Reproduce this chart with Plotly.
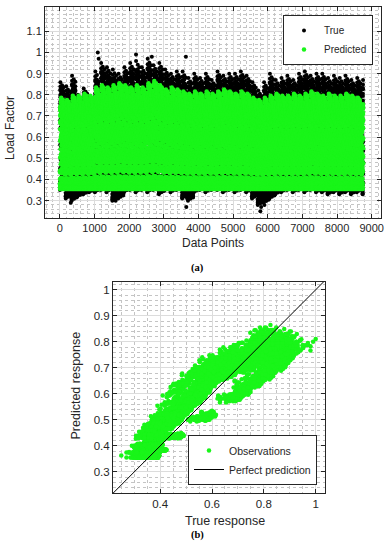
import numpy as np
import plotly.graph_objects as go

# ---------------- data (read/estimated from the picture) ----------------
n_points = 8760
week_len = 168
# weekly envelopes of the hourly "True" load factor (53 weeks)
true_high = [0.86, 0.84, 0.89, 0.80, 0.83, 0.79, 0.91, 0.95, 0.93, 0.92,
             0.90, 0.93, 0.95, 0.96, 0.93, 0.97, 0.94, 0.95, 0.92, 0.90,
             0.91, 0.91, 0.88, 0.90, 0.88, 0.90, 0.87, 0.91, 0.89, 0.90,
             0.90, 0.91, 0.89, 0.86, 0.82, 0.86, 0.90, 0.87, 0.88, 0.89,
             0.87, 0.90, 0.91, 0.89, 0.90, 0.90, 0.88, 0.89, 0.88, 0.89,
             0.87, 0.88, 0.87]
true_low = [0.35, 0.31, 0.30, 0.32, 0.33, 0.34, 0.34, 0.35, 0.34, 0.30,
            0.31, 0.34, 0.35, 0.34, 0.35, 0.34, 0.35, 0.33, 0.35, 0.34,
            0.35, 0.31, 0.30, 0.34, 0.35, 0.34, 0.35, 0.35, 0.34, 0.35,
            0.34, 0.35, 0.34, 0.31, 0.28, 0.29, 0.31, 0.33, 0.34, 0.35,
            0.34, 0.35, 0.34, 0.35, 0.34, 0.34, 0.33, 0.34, 0.33, 0.34,
            0.33, 0.34, 0.33]
# weekly upper envelope of the "Predicted" load factor, and its floor
pred_high = [0.79, 0.78, 0.80, 0.80, 0.81, 0.80, 0.84, 0.85, 0.84, 0.85,
             0.86, 0.85, 0.84, 0.85, 0.84, 0.86, 0.87, 0.85, 0.83, 0.84,
             0.83, 0.82, 0.81, 0.82, 0.81, 0.82, 0.81, 0.82, 0.83, 0.82,
             0.81, 0.82, 0.81, 0.79, 0.78, 0.79, 0.80, 0.81, 0.80, 0.80,
             0.81, 0.80, 0.81, 0.82, 0.81, 0.80, 0.81, 0.80, 0.80, 0.81,
             0.80, 0.79, 0.80]
pred_floor = 0.355
# typical daily (24 h) profiles, relative position within the envelope
hour_shape_true = [0.05, 0.02, 0.00, 0.01, 0.03, 0.08, 0.20, 0.42, 0.65, 0.80,
                   0.88, 0.93, 0.82, 0.86, 0.96, 1.00, 0.92, 0.76, 0.58, 0.46,
                   0.38, 0.28, 0.18, 0.10]
hour_shape_pred = [0.22, 0.12, 0.05, 0.00, 0.02, 0.07, 0.20, 0.38, 0.58, 0.72,
                   0.80, 0.88, 0.95, 0.98, 1.00, 0.97, 0.95, 0.90, 0.82, 0.72,
                   0.60, 0.48, 0.38, 0.30]
# weekday amplitude, base level and prediction timing offset (Mon..Sun)
day_amp_true = [1.00, 0.93, 0.97, 0.90, 0.95, 0.62, 0.48]
day_base_true = [0.00, 0.03, 0.05, 0.015, 0.04, 0.07, 0.025]
day_amp_pred = [0.90, 0.99, 0.86, 0.97, 0.92, 0.84, 0.78]
day_lag_pred = [0, 1, 0, 1, 0, 1, 0]
# isolated extreme readings of the true series
outlier_index = [1094, 1119, 2198, 2654, 3638, 3650, 3674, 5787, 5810, 5905, 314, 1610]
outlier_value = [1.00, 0.97, 0.99, 0.98, 0.98, 0.27, 0.31, 0.25, 0.27, 0.28, 0.29, 0.30]

x_ticks = [0, 1000, 2000, 3000, 4000, 5000, 6000, 7000, 8000, 9000]
y_ticks_a = [0.3, 0.4, 0.5, 0.6, 0.7, 0.8, 0.9, 1.0, 1.1]
y_labels_a = ["0.3", "0.4", "0.5", "0.6", "0.7", "0.8", "0.9", "1", "1.1"]
x_ticks_b = [0.4, 0.6, 0.8, 1.0]
x_labels_b = ["0.4", "0.6", "0.8", "1"]
y_ticks_b = [0.3, 0.4, 0.5, 0.6, 0.7, 0.8, 0.9, 1.0]
y_labels_b = ["0.3", "0.4", "0.5", "0.6", "0.7", "0.8", "0.9", "1"]

# ---------------- build series ----------------
idx = np.arange(n_points)
hour = idx % 24
dow = (idx // 24) % 7
wk = idx // week_len
tl, th = np.array(true_low)[wk], np.array(true_high)[wk]
ph = np.array(pred_high)[wk]
base = np.array(day_base_true)[dow]
true_vals = tl + (th - tl) * (base + (1 - base) * np.array(hour_shape_true)[hour] * np.array(day_amp_true)[dow])
pred_hour = (hour + np.array(day_lag_pred)[dow]) % 24
pred_vals = pred_floor + (ph - pred_floor) * np.array(hour_shape_pred)[pred_hour] * np.array(day_amp_pred)[dow]
true_vals[outlier_index] = outlier_value

W, H = 389, 550
GREEN = "rgb(25,245,25)"
TXT = "#262626"
FONT = "Liberation Sans, Arial, sans-serif"


def px(x):
    return x / W


def py(y):
    return 1 - y / H


fig = go.Figure()
fig.add_trace(go.Scatter(x=idx, y=true_vals, mode="markers", name="True",
                         marker=dict(color="black", size=4), legend="legend",
                         xaxis="x", yaxis="y"))
fig.add_trace(go.Scatter(x=idx, y=pred_vals, mode="markers", name="Predicted",
                         marker=dict(color=GREEN, size=4.5), legend="legend",
                         xaxis="x", yaxis="y"))
fig.add_trace(go.Scatter(x=true_vals, y=pred_vals, mode="markers", name="Observations",
                         marker=dict(color=GREEN, size=4.5), legend="legend2",
                         xaxis="x2", yaxis="y2"))
fig.add_trace(go.Scatter(x=[0.2, 1.05], y=[0.2, 1.05], mode="lines", name="Perfect prediction",
                         line=dict(color="black", width=1), legend="legend2",
                         xaxis="x2", yaxis="y2"))

axis_common = dict(showline=True, linecolor=TXT, linewidth=1, mirror="ticks",
                   ticks="inside", ticklen=4, tickcolor=TXT, showgrid=True,
                   gridcolor="#dcdcdc", gridwidth=1, zeroline=False,
                   automargin=False, ticklabeloverflow="allow")
minor_style = dict(showgrid=True, gridcolor="#c4c4c4", griddash="dot", ticks="")

fig.update_layout(
    width=W, height=H, margin=dict(l=0, r=0, t=0, b=0),
    paper_bgcolor="white", plot_bgcolor="white",
    font=dict(family=FONT, color=TXT),
    xaxis=dict(axis_common, domain=[px(45), px(381)], range=[-430, 9270],
               tickvals=x_ticks, tickfont=dict(family=FONT, color=TXT, size=11),
               minor=dict(minor_style, dtick=200, tick0=0), anchor="y"),
    yaxis=dict(axis_common, domain=[py(218), py(7)], range=[0.218, 1.215],
               tickvals=y_ticks_a, ticktext=y_labels_a,
               tickfont=dict(family=FONT, color=TXT, size=11),
               minor=dict(minor_style, dtick=0.02, tick0=0), anchor="x"),
    xaxis2=dict(axis_common, domain=[px(113), px(325)], range=[0.218, 1.036],
                tickvals=x_ticks_b, ticktext=x_labels_b,
                tickfont=dict(family=FONT, color=TXT, size=11.5),
                minor=dict(minor_style, dtick=0.05, tick0=0), anchor="y2"),
    yaxis2=dict(axis_common, domain=[py(493), py(282)], range=[0.219, 1.03],
                tickvals=y_ticks_b, ticktext=y_labels_b,
                tickfont=dict(family=FONT, color=TXT, size=11.5),
                minor=dict(minor_style, dtick=0.02, tick0=0), anchor="x2"),
    legend=dict(x=px(373), xanchor="right", y=py(15), yanchor="top",
                bgcolor="white", bordercolor=TXT, borderwidth=1,
                font=dict(family=FONT, size=10, color=TXT),
                tracegroupgap=0, itemwidth=30, itemsizing="trace"),
    legend2=dict(x=px(317), xanchor="right", y=py(485), yanchor="bottom",
                 bgcolor="white", bordercolor=TXT, borderwidth=1,
                 font=dict(family=FONT, size=10.5, color=TXT),
                 tracegroupgap=0, itemwidth=30, itemsizing="trace"),
    showlegend=True,
)

annots = [
    dict(text="Load Factor", x=px(10), y=py(128), textangle=-90, font=dict(size=12)),
    dict(text="Data Points", x=px(213), y=py(243), font=dict(size=12)),
    dict(text="<b>(a)</b>", x=px(197), y=py(268),
         font=dict(size=10.5, family="Liberation Serif, Times New Roman, serif", color="black")),
    dict(text="Predicted response", x=px(75.5), y=py(386), textangle=-90, font=dict(size=12.5)),
    dict(text="True response", x=px(225), y=py(521), font=dict(size=12.5)),
    dict(text="<b>(b)</b>", x=px(197.5), y=py(535),
         font=dict(size=10.5, family="Liberation Serif, Times New Roman, serif", color="black")),
]
for a in annots:
    f = dict(family=FONT, color=TXT)
    f.update(a.pop("font"))
    fig.add_annotation(**a, xref="paper", yref="paper", showarrow=False,
                       xanchor="center", yanchor="middle", font=f, borderpad=0)

fig.write_html("out.html", config={"displayModeBar": False},
               post_script="document.body.style.margin='0';")
